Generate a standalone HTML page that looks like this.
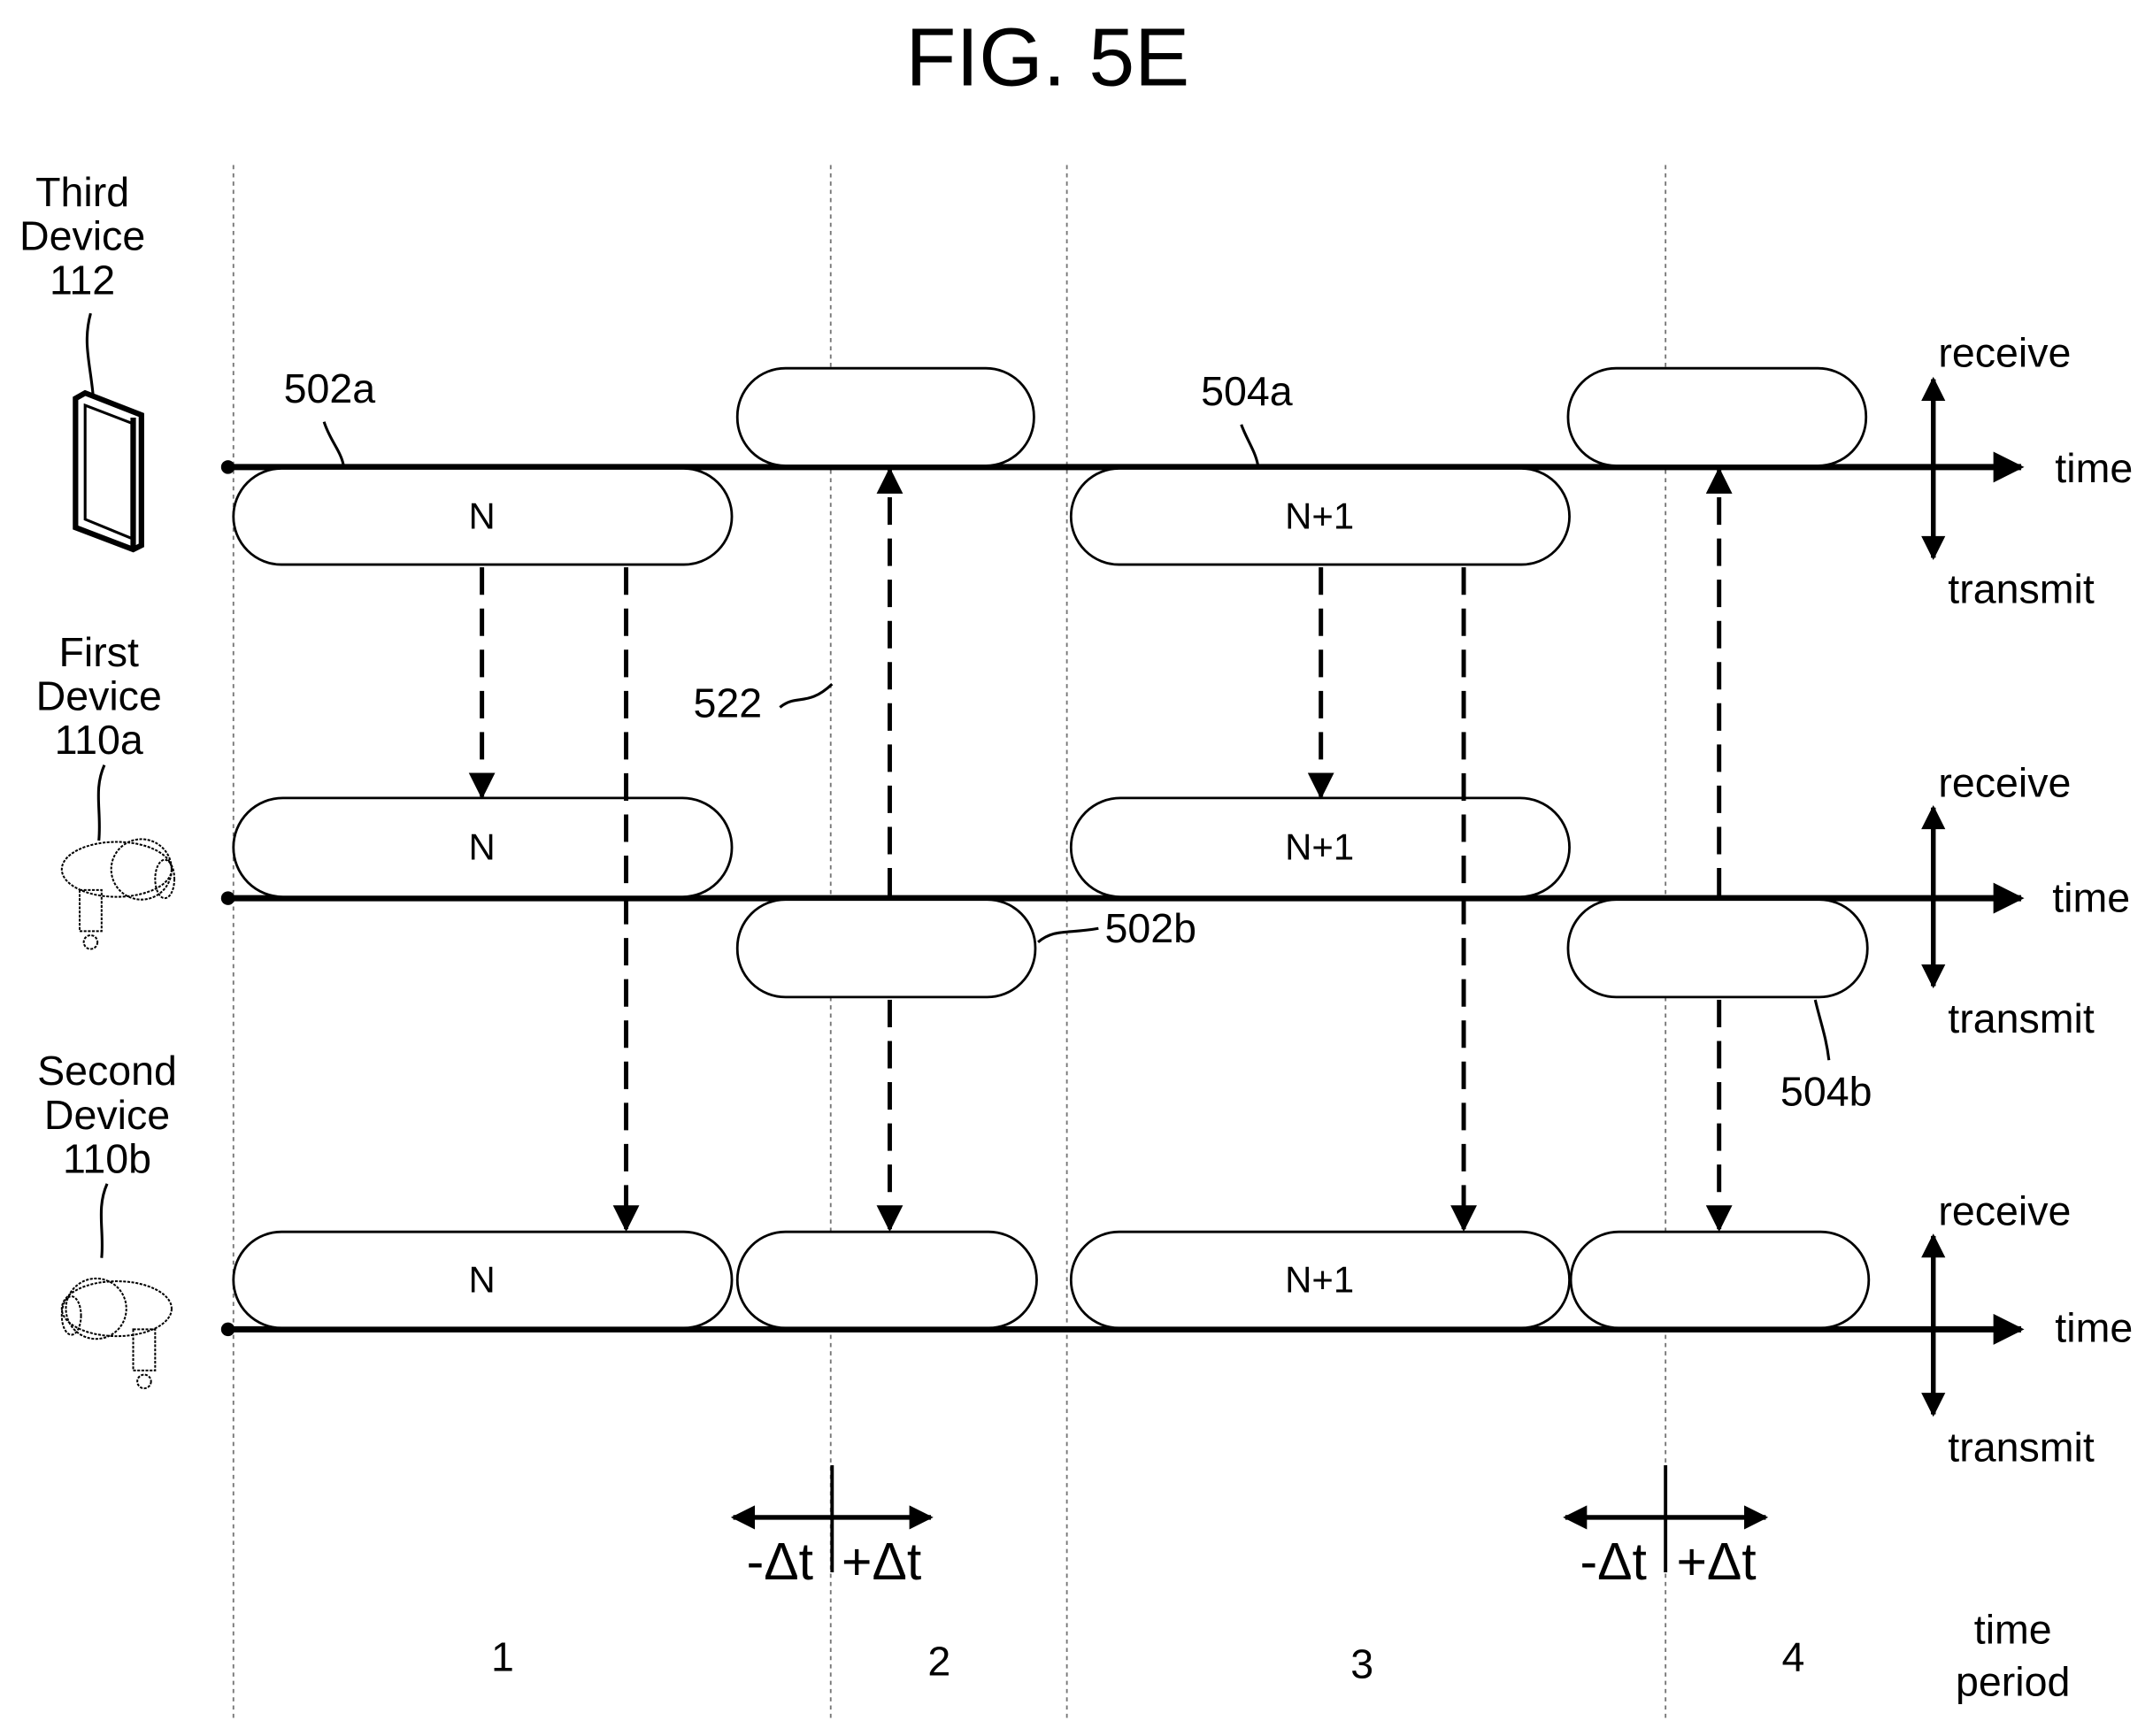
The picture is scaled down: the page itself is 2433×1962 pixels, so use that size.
<!DOCTYPE html>
<html><head><meta charset="utf-8"><style>
html,body{margin:0;padding:0;background:#fff}
svg{display:block}
text{font-family:"Liberation Sans",sans-serif;fill:#000}
</style></head><body>
<svg width="2433" height="1962" viewBox="0 0 1568 1264" xmlns="http://www.w3.org/2000/svg">
<defs>
<marker id="ah" viewBox="0 0 10 10" refX="9" refY="5" markerWidth="5.5" markerHeight="5" orient="auto-start-reverse" markerUnits="strokeWidth"><path d="M0,0 L10,5 L0,10 z" fill="#000"/></marker>
<marker id="ah2" viewBox="0 0 10 10" refX="9" refY="5" markerWidth="7" markerHeight="6" orient="auto-start-reverse" markerUnits="strokeWidth"><path d="M0,0 L10,5 L0,10 z" fill="#000"/></marker>
</defs>
<text x="763" y="62" font-size="60" text-anchor="middle">FIG. 5E</text>
<g stroke="#777" stroke-width="1.2" stroke-dasharray="3,3">
<line x1="170" y1="120" x2="170" y2="1252"/><line x1="605" y1="120" x2="605" y2="1252"/>
<line x1="777" y1="120" x2="777" y2="1252"/><line x1="1213" y1="120" x2="1213" y2="1252"/>
</g>
<g stroke="#000" stroke-width="4.5" fill="none">
<line x1="165" y1="340" x2="1472" y2="340" marker-end="url(#ah)"/>
<line x1="165" y1="654" x2="1472" y2="654" marker-end="url(#ah)"/>
<line x1="165" y1="968" x2="1472" y2="968" marker-end="url(#ah)"/>
</g>
<circle cx="166" cy="340" r="5"/><circle cx="166" cy="654" r="5"/><circle cx="166" cy="968" r="5"/>
<g stroke="#000" stroke-width="1.8" fill="#fff">
<rect x="170" y="341" width="363" height="70" rx="35"/>
<rect x="780" y="341" width="363" height="70" rx="35"/>
<rect x="537" y="268" width="216" height="71" rx="35"/>
<rect x="1142" y="268" width="217" height="71" rx="35"/>
<rect x="170" y="581" width="363" height="72" rx="36"/>
<rect x="780" y="581" width="363" height="72" rx="36"/>
<rect x="537" y="655" width="217" height="71" rx="35"/>
<rect x="1142" y="655" width="218" height="71" rx="35"/>
<rect x="170" y="897" width="363" height="70" rx="35"/>
<rect x="537" y="897" width="218" height="70" rx="35"/>
<rect x="780" y="897" width="363" height="70" rx="35"/>
<rect x="1144" y="897" width="217" height="70" rx="35"/>
</g>
<g font-size="27" text-anchor="middle">
<text x="351" y="385">N</text><text x="961" y="385">N+1</text>
<text x="351" y="626">N</text><text x="961" y="626">N+1</text>
<text x="351" y="941">N</text><text x="961" y="941">N+1</text>
</g>
<g stroke="#000" stroke-width="3.2" stroke-dasharray="20,10" fill="none">
<line x1="351" y1="413" x2="351" y2="580" marker-end="url(#ah2)"/>
<line x1="456" y1="413" x2="456" y2="895" marker-end="url(#ah2)"/>
<line x1="648" y1="728" x2="648" y2="895" marker-end="url(#ah2)"/>
<line x1="648" y1="652" x2="648" y2="342" marker-end="url(#ah2)"/>
<line x1="962" y1="413" x2="962" y2="580" marker-end="url(#ah2)"/>
<line x1="1066" y1="413" x2="1066" y2="895" marker-end="url(#ah2)"/>
<line x1="1252" y1="728" x2="1252" y2="895" marker-end="url(#ah2)"/>
<line x1="1252" y1="652" x2="1252" y2="342" marker-end="url(#ah2)"/>
</g>
<g stroke="#000" stroke-width="3.5">
<line x1="1408" y1="276" x2="1408" y2="406" marker-start="url(#ah)" marker-end="url(#ah)"/>
<line x1="1408" y1="588" x2="1408" y2="718" marker-start="url(#ah)" marker-end="url(#ah)"/>
<line x1="1408" y1="900" x2="1408" y2="1030" marker-start="url(#ah)" marker-end="url(#ah)"/>
<line x1="534" y1="1105" x2="678" y2="1105" marker-start="url(#ah)" marker-end="url(#ah)"/>
<line x1="606" y1="1067" x2="606" y2="1145" stroke-width="2.5"/>
<line x1="1140" y1="1105" x2="1286" y2="1105" marker-start="url(#ah)" marker-end="url(#ah)"/>
<line x1="1213" y1="1067" x2="1213" y2="1145" stroke-width="2.5"/>
</g>
<g font-size="30">
<text x="1460" y="267" text-anchor="middle">receive</text>
<text x="1525" y="351" text-anchor="middle">time</text>
<text x="1472" y="439" text-anchor="middle">transmit</text>
<text x="1460" y="580" text-anchor="middle">receive</text>
<text x="1523" y="664" text-anchor="middle">time</text>
<text x="1472" y="752" text-anchor="middle">transmit</text>
<text x="1460" y="892" text-anchor="middle">receive</text>
<text x="1525" y="977" text-anchor="middle">time</text>
<text x="1472" y="1064" text-anchor="middle">transmit</text>
<text x="1466" y="1197" text-anchor="middle">time</text>
<text x="1466" y="1235" text-anchor="middle">period</text>
<text x="366" y="1217" text-anchor="middle">1</text>
<text x="684" y="1220" text-anchor="middle">2</text>
<text x="992" y="1222" text-anchor="middle">3</text>
<text x="1306" y="1217" text-anchor="middle">4</text>
<text x="60" y="150" text-anchor="middle">Third</text>
<text x="60" y="182" text-anchor="middle">Device</text>
<text x="60" y="214" text-anchor="middle">112</text>
<text x="72" y="485" text-anchor="middle">First</text>
<text x="72" y="517" text-anchor="middle">Device</text>
<text x="72" y="549" text-anchor="middle">110a</text>
<text x="78" y="790" text-anchor="middle">Second</text>
<text x="78" y="822" text-anchor="middle">Device</text>
<text x="78" y="854" text-anchor="middle">110b</text>
<text x="240" y="293" text-anchor="middle">502a</text>
<text x="908" y="295" text-anchor="middle">504a</text>
<text x="530" y="522" text-anchor="middle">522</text>
<text x="838" y="686" text-anchor="middle">502b</text>
<text x="1330" y="805" text-anchor="middle">504b</text>
</g>
<g font-size="38" text-anchor="middle">
<text x="568" y="1150">-Δt</text><text x="642" y="1150">+Δt</text>
<text x="1175" y="1150">-Δt</text><text x="1250" y="1150">+Δt</text>
</g>
<g stroke="#000" stroke-width="2" fill="none">
<path d="M236,307 C240,320 248,328 250,338"/>
<path d="M904,309 C908,320 914,328 916,338"/>
<path d="M568,515 C580,505 588,515 606,498"/>
<path d="M756,686 C768,676 778,680 800,676"/>
<path d="M1322,728 C1326,745 1330,755 1332,772"/>
<path d="M66,228 C60,250 66,265 68,290"/>
<path d="M76,557 C68,575 74,590 72,612"/>
<path d="M78,862 C70,880 76,896 74,916"/>
</g>
<g stroke="#000" fill="none">
<path d="M55,290 L62,286 L103,302 L103,397 L97,400 L55,384 Z" stroke-width="4"/>
<path d="M62,295 L96,308 L96,392 L62,378 Z" stroke-width="2"/>
<path d="M97,304 L97,398" stroke-width="4"/>
</g>
<g stroke="#000" stroke-width="1.3" fill="none" stroke-dasharray="2,1">
<ellipse cx="85" cy="633" rx="40" ry="20"/>
<ellipse cx="103" cy="633" rx="22" ry="22"/>
<ellipse cx="120" cy="640" rx="7" ry="14"/>
<rect x="58" y="648" width="16" height="30"/>
<circle cx="66" cy="686" r="5"/>
<ellipse cx="85" cy="953" rx="40" ry="20"/>
<ellipse cx="70" cy="953" rx="22" ry="22"/>
<ellipse cx="52" cy="958" rx="7" ry="14"/>
<rect x="97" y="968" width="16" height="30"/>
<circle cx="105" cy="1006" r="5"/>
</g>
</svg>
</body></html>
